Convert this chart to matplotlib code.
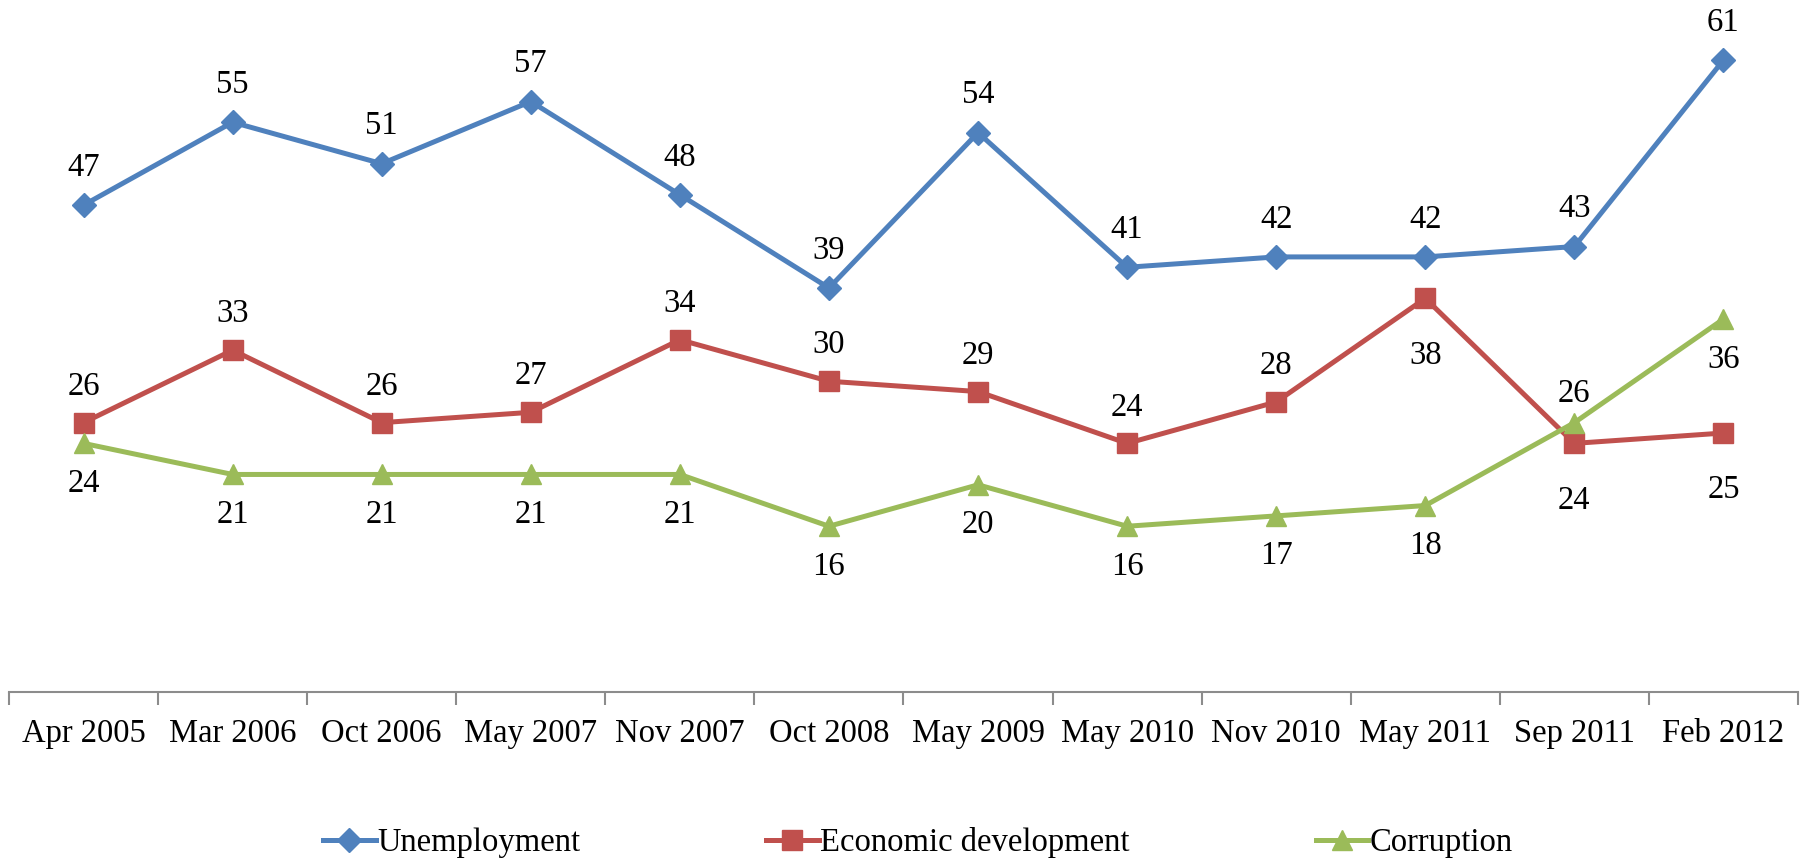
import matplotlib
matplotlib.use("Agg")
import matplotlib.pyplot as plt
from matplotlib.lines import Line2D

categories = ["Apr 2005", "Mar 2006", "Oct 2006", "May 2007", "Nov 2007", "Oct 2008",
              "May 2009", "May 2010", "Nov 2010", "May 2011", "Sep 2011", "Feb 2012"]
unemployment = [47, 55, 51, 57, 48, 39, 54, 41, 42, 42, 43, 61]
economic = [26, 33, 26, 27, 34, 30, 29, 24, 28, 38, 24, 25]
corruption = [24, 21, 21, 21, 21, 16, 20, 16, 17, 18, 26, 36]

# label placement: 1 = above, -1 = below
econ_pos = [1, 1, 1, 1, 1, 1, 1, 1, 1, -1, -1, -1]
corr_pos = [-1, -1, -1, -1, -1, -1, -1, -1, -1, -1, 1, -1]

plt.rcParams['font.family'] = ['Liberation Serif', 'DejaVu Serif']

W, H = 1805, 860
fig = plt.figure(figsize=(W / 100, H / 100), dpi=100)
ax = fig.add_axes([9 / W, (H - 692) / H, (1798 - 9) / W, 692 / H])

x = list(range(len(categories)))
blue, red, green = "#4F81BD", "#C0504D", "#9BBB59"
lw = 3.6

ax.plot(x, unemployment, color=blue, lw=lw, marker="D", ms=12, zorder=3)
ax.plot(x, economic, color=red, lw=lw, marker="s", ms=14, zorder=3)
ax.plot(x, corruption, color=green, lw=lw, marker="^", ms=15, zorder=4)

fs = 23.5
for xi, v in zip(x, unemployment):
    ax.annotate(str(v), (xi, v), xytext=(0, 27), textcoords="offset points",
                ha="center", va="center", fontsize=fs)
for xi, v, p in zip(x, economic, econ_pos):
    off = 26 if p > 0 else -41
    ax.annotate(str(v), (xi, v), xytext=(0, off), textcoords="offset points",
                ha="center", va="center", fontsize=fs)
for xi, v, p in zip(x, corruption, corr_pos):
    off = 21 if p > 0 else -29
    ax.annotate(str(v), (xi, v), xytext=(0, off), textcoords="offset points",
                ha="center", va="center", fontsize=fs)

ax.set_xlim(-0.5, len(categories) - 0.5)
ax.set_ylim(0, 66.8)
for s in ["top", "right", "left"]:
    ax.spines[s].set_visible(False)
ax.spines["bottom"].set_color("#8c8c8c")
ax.spines["bottom"].set_linewidth(1.5)
ax.set_yticks([])
ax.set_xticks([i - 0.5 for i in range(len(categories) + 1)])
ax.set_xticklabels([])
ax.tick_params(axis="x", which="major", length=9, width=1.5, color="#8c8c8c", direction="out")
ax.set_xticks(x, minor=True)
ax.set_xticklabels(categories, minor=True, fontsize=fs)
ax.tick_params(axis="x", which="minor", length=0, pad=19)

handles = [
    Line2D([], [], color=blue, lw=lw, marker="D", ms=12),
    Line2D([], [], color=red, lw=lw, marker="s", ms=14),
    Line2D([], [], color=green, lw=lw, marker="^", ms=15),
]
fig.legend(handles, ["Unemployment", "Economic development", "Corruption"],
           loc="center", bbox_to_anchor=(918 / W, 1 - 843 / H), ncol=3,
           frameon=False, fontsize=fs, handlelength=1.6, handletextpad=0.05,
           columnspacing=5.7)

fig.savefig("out.png", dpi=100)
